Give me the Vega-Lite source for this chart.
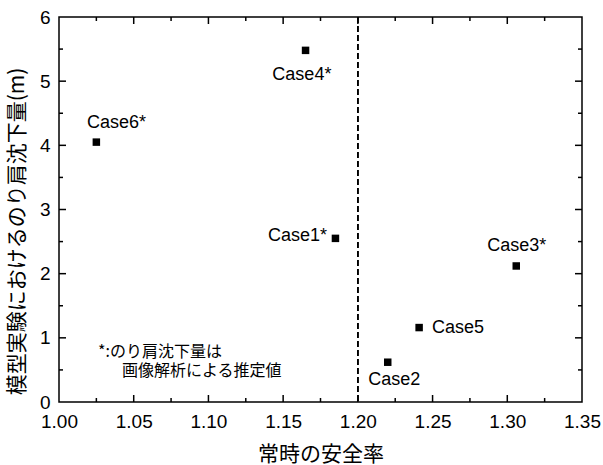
{
  "$schema": "https://vega.github.io/schema/vega-lite/v6.json",
  "width": 523,
  "height": 385,
  "autosize": {"type": "none"},
  "padding": {"left": 59, "top": 17, "right": 21, "bottom": 63},
  "background": "white",
  "config": {
    "view": {"stroke": "black", "strokeWidth": 1.5},
    "font": "Liberation Sans",
    "axis": {"grid": false, "domain": false, "ticks": false, "labelColor": "black", "titleColor": "black", "labelFlush": false, "labelOverlap": false}
  },
  "datasets": {
    "cases": [
      {"case": "Case1", "label": "Case1*", "sf": 1.185, "settle": 2.55},
      {"case": "Case2", "label": "Case2", "sf": 1.22, "settle": 0.62},
      {"case": "Case3", "label": "Case3*", "sf": 1.306, "settle": 2.12},
      {"case": "Case4", "label": "Case4*", "sf": 1.165, "settle": 5.48},
      {"case": "Case5", "label": "Case5", "sf": 1.241, "settle": 1.16},
      {"case": "Case6", "label": "Case6*", "sf": 1.025, "settle": 4.05}
    ],
    "xmajor": [{"v": 1.05}, {"v": 1.1}, {"v": 1.15}, {"v": 1.2}, {"v": 1.25}, {"v": 1.3}],
    "xminor": [{"v": 1.025}, {"v": 1.075}, {"v": 1.125}, {"v": 1.175}, {"v": 1.225}, {"v": 1.275}, {"v": 1.325}],
    "ymajor": [{"v": 1}, {"v": 2}, {"v": 3}, {"v": 4}, {"v": 5}],
    "yminor": [{"v": 0.5}, {"v": 1.5}, {"v": 2.5}, {"v": 3.5}, {"v": 4.5}, {"v": 5.5}]
  },
  "data": {"name": "cases"},
  "resolve": {"axis": {"x": "independent", "y": "independent"}},
  "layer": [
    {
      "mark": {"type": "rule", "color": "black", "strokeWidth": 1, "strokeDash": [6, 3]},
      "encoding": {
        "x": {"datum": 1.2, "type": "quantitative", "scale": {"domain": [1, 1.35], "nice": false, "zero": false}, "axis": null}
      }
    },
    {
      "data": {"name": "xmajor"},
      "mark": {"type": "rule", "color": "black", "strokeWidth": 1.5},
      "encoding": {
        "x": {"field": "v", "type": "quantitative", "scale": {"domain": [1, 1.35], "nice": false, "zero": false}, "axis": null},
        "y": {"datum": 0, "type": "quantitative", "scale": {"domain": [0, 6], "nice": false, "zero": false}, "axis": null},
        "y2": {"datum": 0.109}
      }
    },
    {
      "data": {"name": "xmajor"},
      "mark": {"type": "rule", "color": "black", "strokeWidth": 1.5},
      "encoding": {
        "x": {"field": "v", "type": "quantitative", "scale": {"domain": [1, 1.35], "nice": false, "zero": false}, "axis": null},
        "y": {"datum": 6, "type": "quantitative", "scale": {"domain": [0, 6], "nice": false, "zero": false}, "axis": null},
        "y2": {"datum": 5.891}
      }
    },
    {
      "data": {"name": "xminor"},
      "mark": {"type": "rule", "color": "black", "strokeWidth": 1.5},
      "encoding": {
        "x": {"field": "v", "type": "quantitative", "scale": {"domain": [1, 1.35], "nice": false, "zero": false}, "axis": null},
        "y": {"datum": 0, "type": "quantitative", "scale": {"domain": [0, 6], "nice": false, "zero": false}, "axis": null},
        "y2": {"datum": 0.062}
      }
    },
    {
      "data": {"name": "xminor"},
      "mark": {"type": "rule", "color": "black", "strokeWidth": 1.5},
      "encoding": {
        "x": {"field": "v", "type": "quantitative", "scale": {"domain": [1, 1.35], "nice": false, "zero": false}, "axis": null},
        "y": {"datum": 6, "type": "quantitative", "scale": {"domain": [0, 6], "nice": false, "zero": false}, "axis": null},
        "y2": {"datum": 5.938}
      }
    },
    {
      "data": {"name": "ymajor"},
      "mark": {"type": "rule", "color": "black", "strokeWidth": 1.5},
      "encoding": {
        "y": {"field": "v", "type": "quantitative", "scale": {"domain": [0, 6], "nice": false, "zero": false}, "axis": null},
        "x": {"datum": 1, "type": "quantitative", "scale": {"domain": [1, 1.35], "nice": false, "zero": false}, "axis": null},
        "x2": {"datum": 1.00468}
      }
    },
    {
      "data": {"name": "ymajor"},
      "mark": {"type": "rule", "color": "black", "strokeWidth": 1.5},
      "encoding": {
        "y": {"field": "v", "type": "quantitative", "scale": {"domain": [0, 6], "nice": false, "zero": false}, "axis": null},
        "x": {"datum": 1.35, "type": "quantitative", "scale": {"domain": [1, 1.35], "nice": false, "zero": false}, "axis": null},
        "x2": {"datum": 1.34532}
      }
    },
    {
      "data": {"name": "yminor"},
      "mark": {"type": "rule", "color": "black", "strokeWidth": 1.5},
      "encoding": {
        "y": {"field": "v", "type": "quantitative", "scale": {"domain": [0, 6], "nice": false, "zero": false}, "axis": null},
        "x": {"datum": 1, "type": "quantitative", "scale": {"domain": [1, 1.35], "nice": false, "zero": false}, "axis": null},
        "x2": {"datum": 1.00268}
      }
    },
    {
      "data": {"name": "yminor"},
      "mark": {"type": "rule", "color": "black", "strokeWidth": 1.5},
      "encoding": {
        "y": {"field": "v", "type": "quantitative", "scale": {"domain": [0, 6], "nice": false, "zero": false}, "axis": null},
        "x": {"datum": 1.35, "type": "quantitative", "scale": {"domain": [1, 1.35], "nice": false, "zero": false}, "axis": null},
        "x2": {"datum": 1.34732}
      }
    },
    {
      "mark": {"type": "square", "filled": true, "color": "black", "size": 56, "opacity": 1},
      "encoding": {
        "x": {
          "field": "sf", "type": "quantitative",
          "scale": {"domain": [1, 1.35], "nice": false, "zero": false},
          "axis": {
            "orient": "bottom",
            "values": [1, 1.05, 1.1, 1.15, 1.2, 1.25, 1.3, 1.35],
            "format": ".2f",
            "ticks": false,
            "labelPadding": 10,
            "labelFontSize": 19,
            "labelFont": "Liberation Sans",
            "title": "常時の安全率",
            "titleFont": "Noto Sans CJK JP",
            "titleFontSize": 21,
            "titleFontWeight": "normal",
            "titleY": 52,
            "titleBaseline": "middle"
          }
        },
        "y": {
          "field": "settle", "type": "quantitative",
          "scale": {"domain": [0, 6], "nice": false, "zero": false},
          "axis": {
            "orient": "left",
            "values": [0, 1, 2, 3, 4, 5, 6],
            "format": "d",
            "ticks": false,
            "labelPadding": 9,
            "labelFontSize": 19,
            "labelFont": "Liberation Sans",
            "title": "模型実験におけるのり肩沈下量(m)",
            "titleFont": "Noto Sans CJK JP",
            "titleFontSize": 21,
            "titleFontWeight": "normal",
            "titleX": -41.5,
            "titleY": 214,
            "titleBaseline": "middle"
          }
        }
      }
    },
    {
      "transform": [{"filter": "datum.case === 'Case6'"}],
      "mark": {"type": "text", "align": "left", "baseline": "alphabetic", "dx": -9.4, "dy": -14.6, "fontSize": 18, "font": "Liberation Sans", "color": "black"},
      "encoding": {
        "x": {"field": "sf", "type": "quantitative", "scale": {"domain": [1, 1.35], "nice": false, "zero": false}, "axis": null},
        "y": {"field": "settle", "type": "quantitative", "scale": {"domain": [0, 6], "nice": false, "zero": false}, "axis": null},
        "text": {"field": "label"}
      }
    },
    {
      "transform": [{"filter": "datum.case === 'Case4'"}],
      "mark": {"type": "text", "align": "left", "baseline": "alphabetic", "dx": -33.2, "dy": 30, "fontSize": 18, "font": "Liberation Sans", "color": "black"},
      "encoding": {
        "x": {"field": "sf", "type": "quantitative", "scale": {"domain": [1, 1.35], "nice": false, "zero": false}, "axis": null},
        "y": {"field": "settle", "type": "quantitative", "scale": {"domain": [0, 6], "nice": false, "zero": false}, "axis": null},
        "text": {"field": "label"}
      }
    },
    {
      "transform": [{"filter": "datum.case === 'Case1'"}],
      "mark": {"type": "text", "align": "right", "baseline": "alphabetic", "dx": -8.5, "dy": 2.9, "fontSize": 18, "font": "Liberation Sans", "color": "black"},
      "encoding": {
        "x": {"field": "sf", "type": "quantitative", "scale": {"domain": [1, 1.35], "nice": false, "zero": false}, "axis": null},
        "y": {"field": "settle", "type": "quantitative", "scale": {"domain": [0, 6], "nice": false, "zero": false}, "axis": null},
        "text": {"field": "label"}
      }
    },
    {
      "transform": [{"filter": "datum.case === 'Case3'"}],
      "mark": {"type": "text", "align": "left", "baseline": "alphabetic", "dx": -29, "dy": -14.5, "fontSize": 18, "font": "Liberation Sans", "color": "black"},
      "encoding": {
        "x": {"field": "sf", "type": "quantitative", "scale": {"domain": [1, 1.35], "nice": false, "zero": false}, "axis": null},
        "y": {"field": "settle", "type": "quantitative", "scale": {"domain": [0, 6], "nice": false, "zero": false}, "axis": null},
        "text": {"field": "label"}
      }
    },
    {
      "transform": [{"filter": "datum.case === 'Case5'"}],
      "mark": {"type": "text", "align": "left", "baseline": "alphabetic", "dx": 12.9, "dy": 5.5, "fontSize": 18, "font": "Liberation Sans", "color": "black"},
      "encoding": {
        "x": {"field": "sf", "type": "quantitative", "scale": {"domain": [1, 1.35], "nice": false, "zero": false}, "axis": null},
        "y": {"field": "settle", "type": "quantitative", "scale": {"domain": [0, 6], "nice": false, "zero": false}, "axis": null},
        "text": {"field": "label"}
      }
    },
    {
      "transform": [{"filter": "datum.case === 'Case2'"}],
      "mark": {"type": "text", "align": "left", "baseline": "alphabetic", "dx": -19.5, "dy": 23, "fontSize": 18, "font": "Liberation Sans", "color": "black"},
      "encoding": {
        "x": {"field": "sf", "type": "quantitative", "scale": {"domain": [1, 1.35], "nice": false, "zero": false}, "axis": null},
        "y": {"field": "settle", "type": "quantitative", "scale": {"domain": [0, 6], "nice": false, "zero": false}, "axis": null},
        "text": {"field": "label"}
      }
    },
    {
      "data": {"values": [{"note": "*:のり肩沈下量は"}]},
      "mark": {"type": "text", "align": "left", "baseline": "middle", "fontSize": 16, "font": "Noto Sans CJK JP", "color": "black"},
      "encoding": {
        "x": {"datum": 1.0261, "type": "quantitative", "scale": {"domain": [1, 1.35], "nice": false, "zero": false}, "axis": null},
        "y": {"datum": 0.785, "type": "quantitative", "scale": {"domain": [0, 6], "nice": false, "zero": false}, "axis": null},
        "text": {"field": "note"}
      }
    },
    {
      "data": {"values": [{"note": "画像解析による推定値"}]},
      "mark": {"type": "text", "align": "left", "baseline": "middle", "fontSize": 16, "font": "Noto Sans CJK JP", "color": "black"},
      "encoding": {
        "x": {"datum": 1.0422, "type": "quantitative", "scale": {"domain": [1, 1.35], "nice": false, "zero": false}, "axis": null},
        "y": {"datum": 0.48, "type": "quantitative", "scale": {"domain": [0, 6], "nice": false, "zero": false}, "axis": null},
        "text": {"field": "note"}
      }
    }
  ]
}
